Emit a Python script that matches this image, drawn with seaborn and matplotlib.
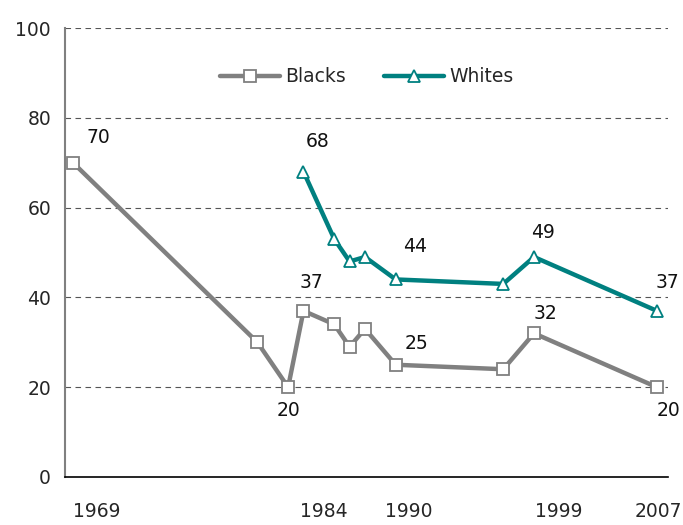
import pandas as pd
import numpy as np
import matplotlib.pyplot as plt
import matplotlib.transforms as mtransforms
import seaborn as sns

# data
black_years = [1969, 1981, 1983, 1984, 1986, 1987, 1988, 1990, 1997, 1999, 2007]
black_values = [70, 30, 20, 37, 34, 29, 33, 25, 24, 32, 20]
white_years = [1984, 1986, 1987, 1988, 1990, 1997, 1999, 2007]
white_values = [68, 53, 48, 49, 44, 43, 49, 37]
tick_years = [1969, 1984, 1990, 1999, 2007]
y_ticks = [0, 20, 40, 60, 80, 100]

# which points get a value label, with offsets in pixels (dx, dy)
black_labels = {1969: (25, 25), 1983: (0, -23), 1984: (8, 28), 1990: (21, 21),
                1999: (11, 20), 2007: (12, -23)}
white_labels = {1984: (14, 30), 1990: (19, 33), 1999: (9, 24), 2007: (11, 28)}
# the year labels sit a little right of their points in the original
tick_shift_px = [24, 20, 13, 25, 1]

sns.set_style('white')
plt.rcParams['font.family'] = ['DejaVu Sans']

blacks = pd.DataFrame({'year': black_years, 'value': black_values})
whites = pd.DataFrame({'year': white_years, 'value': white_values})

GRAY = '#808080'
TEAL = '#008080'

fig = plt.figure(figsize=(6.83, 5.25), dpi=100)
ax = fig.add_axes([65 / 683, 1 - 477 / 525, (668 - 65) / 683, (477 - 28) / 525])

sns.lineplot(data=blacks, x='year', y='value', ax=ax, color=GRAY, linewidth=3.2,
             marker='s', markersize=9, markerfacecolor='white',
             markeredgecolor=GRAY, markeredgewidth=1.3, label='Blacks', zorder=3)
sns.lineplot(data=whites, x='year', y='value', ax=ax, color=TEAL, linewidth=3.2,
             marker='^', markersize=9, markerfacecolor='white',
             markeredgecolor=TEAL, markeredgewidth=1.3, label='Whites', zorder=3)

# value labels
for yr, (dx, dy) in black_labels.items():
    v = black_values[black_years.index(yr)]
    ax.annotate(str(v), (yr, v), xytext=(dx * 0.72, dy * 0.72), textcoords='offset points',
                ha='center', va='center', fontsize=13.5, color='#111111')
for yr, (dx, dy) in white_labels.items():
    v = white_values[white_years.index(yr)]
    ax.annotate(str(v), (yr, v), xytext=(dx * 0.72, dy * 0.72), textcoords='offset points',
                ha='center', va='center', fontsize=13.5, color='#111111')

ax.set_xlim(1968.48, 2007.72)
ax.set_ylim(0, 100)
ax.set_yticks(y_ticks)
ax.set_yticklabels([str(t) for t in y_ticks], fontsize=13.5)
ax.set_xticks(tick_years)
ax.set_xticklabels([str(t) for t in tick_years], fontsize=13.5)
ax.tick_params(axis='y', length=6, width=1, color='#333333', direction='out', pad=4)
ax.tick_params(axis='x', length=0, pad=18)
for lab, dx in zip(ax.get_xticklabels(), tick_shift_px):
    lab.set_transform(lab.get_transform() +
                      mtransforms.ScaledTranslation(dx / 100, 0, fig.dpi_scale_trans))
ax.set_xlabel('')
ax.set_ylabel('')

for t in y_ticks[1:]:
    ax.axhline(t, color='#555555', linewidth=0.8, linestyle=(0, (5, 4)), zorder=1)

for side in ['top', 'right']:
    ax.spines[side].set_visible(False)
ax.spines['left'].set_color(GRAY)
ax.spines['left'].set_linewidth(1.5)
ax.spines['bottom'].set_color('black')
ax.spines['bottom'].set_linewidth(1.2)

leg = ax.legend(loc='upper center', bbox_to_anchor=(0.5, 0.95), ncol=2, frameon=False,
                fontsize=13.5, handlelength=3.2, handletextpad=0.3, columnspacing=2.0)

fig.savefig('out.png', dpi=100)
